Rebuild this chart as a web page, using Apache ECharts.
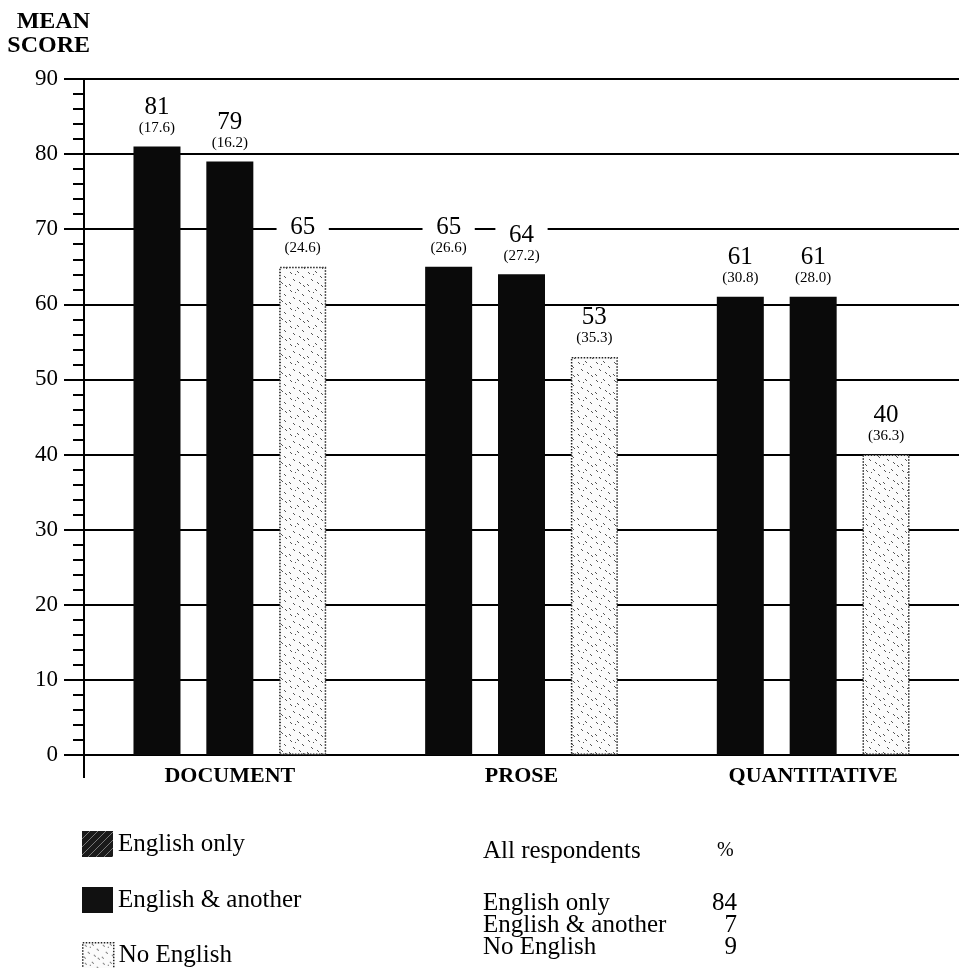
<!DOCTYPE html>
<html>
<head>
<meta charset="utf-8">
<script src="https://cdn.jsdelivr.net/npm/echarts@6/dist/echarts.min.js"></script>
<style>
html,body{margin:0;padding:0;background:#fff;}
#chart{width:959px;height:968px;}
</style>
</head>
<body>
<div id="chart"></div>
<script>
// ---- data ----
var categories = ['DOCUMENT', 'PROSE', 'QUANTITATIVE'];
var seriesNames = ['English only', 'English & another', 'No English'];
var englishOnly = [81, 65, 61];
var englishOnlySD = [17.6, 26.6, 30.8];
var englishAnother = [79, 64, 61];
var englishAnotherSD = [16.2, 27.2, 28.0];
var noEnglish = [65, 53, 40];
var noEnglishSD = [24.6, 35.3, 36.3];
var yTicks = [0, 10, 20, 30, 40, 50, 60, 70, 80, 90];
var tableRows = ['English only', 'English & another', 'No English'];
var tablePct = [84, 7, 9];

var FONT = '"Liberation Serif", "DejaVu Serif", serif';

function makeDotPattern() {
  var c = document.createElement('canvas');
  c.width = 18; c.height = 18;
  var g = c.getContext('2d');
  g.fillStyle = '#fbfbfb';
  g.fillRect(0, 0, 18, 18);
  g.strokeStyle = '#555';
  g.lineWidth = 1;
  var segs = [[2,2,4,4],[9,1,11,3],[14,6,16,8],[5,9,7,11],[11,12,13,14],[1,14,3,16],[15,15,17,17],[7,4,8,5]];
  segs.forEach(function(s){ g.beginPath(); g.moveTo(s[0], s[1]); g.lineTo(s[2], s[3]); g.stroke(); });
  return c;
}
function makeDarkHatch() {
  var c = document.createElement('canvas');
  c.width = 8; c.height = 8;
  var g = c.getContext('2d');
  g.fillStyle = '#1a1a1a';
  g.fillRect(0, 0, 8, 8);
  g.strokeStyle = '#777';
  g.lineWidth = 1;
  g.beginPath(); g.moveTo(0, 8); g.lineTo(8, 0); g.stroke();
  return c;
}
var dotPattern = makeDotPattern();
var darkHatch = makeDarkHatch();

function labelFor(sdArr) {
  return {
    show: true,
    position: 'top',
    distance: 10,
    backgroundColor: '#fff',
    padding: [0, 8, 0, 8],
    formatter: function (p) {
      return '{a|' + p.value + '}\n{b|(' + sdArr[p.dataIndex].toFixed(1) + ')}';
    },
    rich: {
      a: { fontFamily: FONT, fontSize: 25, lineHeight: 24, color: '#000', align: 'center' },
      b: { fontFamily: FONT, fontSize: 15, lineHeight: 17, color: '#000', align: 'center' }
    }
  };
}

var legendItemStyles = [
  { color: { image: darkHatch, repeat: 'repeat' }, borderWidth: 0 },
  { color: '#111', borderWidth: 0 },
  { color: { image: dotPattern, repeat: 'repeat' }, borderColor: '#222', borderWidth: 1.5, borderType: 'dotted' }
];
var legendTops = [831, 887, 942];
var legends = seriesNames.map(function (n, i) {
  return {
    orient: 'vertical',
    left: 82,
    top: legendTops[i],
    padding: 0,
    itemWidth: 31,
    itemHeight: 26,
    icon: 'rect',
    textStyle: { fontFamily: FONT, fontSize: 25, color: '#000', padding: [0, 0, 0, 0] },
    data: [{ name: n, itemStyle: legendItemStyles[i] }]
  };
});

var chart = echarts.init(document.getElementById('chart'), null, { renderer: 'canvas' });
var option = {
  backgroundColor: '#fff',
  animation: false,
  grid: { left: 84, width: 884, top: 79, bottom: 213, containLabel: false },
  legend: legends,
  xAxis: {
    type: 'category',
    data: categories,
    axisLine: { show: true, lineStyle: { color: '#000', width: 2 } },
    axisTick: { show: false },
    axisLabel: { margin: 10, fontFamily: FONT, fontWeight: 'bold', fontSize: 22, color: '#000' },
    splitLine: { show: false }
  },
  yAxis: {
    type: 'value',
    min: yTicks[0],
    max: yTicks[yTicks.length - 1],
    interval: 10,
    axisLine: { show: true, lineStyle: { color: '#000', width: 2 } },
    axisTick: { show: true, length: 20, lineStyle: { color: '#000', width: 2 } },
    minorTick: { show: true, splitNumber: 5, length: 11, lineStyle: { color: '#000', width: 2 } },
    axisLabel: { margin: 26, fontFamily: FONT, fontSize: 23, color: '#000' },
    splitLine: { show: true, lineStyle: { color: '#000', width: 2 } }
  },
  series: [
    {
      name: seriesNames[0], type: 'bar', data: englishOnly,
      barWidth: 47, barGap: '55%',
      itemStyle: { color: '#0a0a0a' },
      label: labelFor(englishOnlySD), z: 3
    },
    {
      name: seriesNames[1], type: 'bar', data: englishAnother,
      barWidth: 47, barGap: '55%',
      itemStyle: { color: '#0a0a0a' },
      label: labelFor(englishAnotherSD), z: 3
    },
    {
      name: seriesNames[2], type: 'bar', data: noEnglish,
      barWidth: 47, barGap: '55%',
      itemStyle: { color: { image: dotPattern, repeat: 'repeat' }, borderColor: '#222', borderWidth: 1.5, borderType: 'dotted' },
      label: labelFor(noEnglishSD), z: 3
    }
  ],
  graphic: [
    { type: 'text', right: 959 - 90, top: 10, style: { text: 'MEAN', fontFamily: FONT, fontWeight: 'bold', fontSize: 24, fill: '#000' } },
    { type: 'text', right: 959 - 90, top: 34, style: { text: 'SCORE', fontFamily: FONT, fontWeight: 'bold', fontSize: 24, fill: '#000' } },
    { type: 'line', shape: { x1: 84, y1: 755, x2: 84, y2: 778 }, style: { stroke: '#000', lineWidth: 2 } },
    { type: 'text', left: 483, top: 839, style: { text: 'All respondents', fontFamily: FONT, fontSize: 25, fill: '#000' } },
    { type: 'text', left: 717, top: 841, style: { text: '%', fontFamily: FONT, fontSize: 20, fill: '#000' } },
    { type: 'text', left: 483, top: 891, style: { text: tableRows[0], fontFamily: FONT, fontSize: 25, fill: '#000' } },
    { type: 'text', left: 483, top: 913, style: { text: tableRows[1], fontFamily: FONT, fontSize: 25, fill: '#000' } },
    { type: 'text', left: 483, top: 935, style: { text: tableRows[2], fontFamily: FONT, fontSize: 25, fill: '#000' } },
    { type: 'text', right: 959 - 737, top: 891, style: { text: String(tablePct[0]), fontFamily: FONT, fontSize: 25, fill: '#000' } },
    { type: 'text', right: 959 - 737, top: 913, style: { text: String(tablePct[1]), fontFamily: FONT, fontSize: 25, fill: '#000' } },
    { type: 'text', right: 959 - 737, top: 935, style: { text: String(tablePct[2]), fontFamily: FONT, fontSize: 25, fill: '#000' } }
  ]
};
chart.setOption(option);
</script>
</body>
</html>
